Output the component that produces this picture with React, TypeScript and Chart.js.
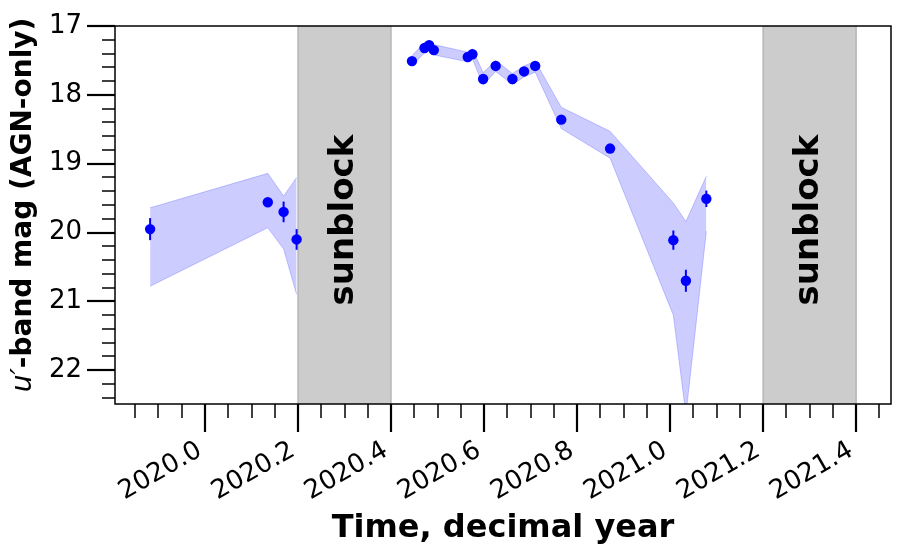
import React, { useEffect, useRef } from 'react';
import { Chart, registerables } from 'chart.js';

Chart.register(...registerables);

// ---- data ----
const times = [
  2019.882, 2020.135, 2020.169, 2020.197,
  2020.445, 2020.472, 2020.482, 2020.492, 2020.565, 2020.575, 2020.598, 2020.625,
  2020.661, 2020.686, 2020.710, 2020.766, 2020.871, 2021.007, 2021.034, 2021.078,
];
const mags = [
  19.95, 19.56, 19.70, 20.10,
  17.51, 17.32, 17.28, 17.35, 17.45, 17.41, 17.77, 17.58,
  17.77, 17.66, 17.58, 18.36, 18.78, 20.11, 20.70, 19.51,
];
const magErrs = [
  0.16, 0.04, 0.15, 0.15,
  0.03, 0.03, 0.03, 0.03, 0.03, 0.03, 0.03, 0.03,
  0.03, 0.03, 0.03, 0.04, 0.05, 0.14, 0.16, 0.12,
];
const bandBright = [
  19.64, 19.14, 19.47, 19.20,
  17.43, 17.24, 17.21, 17.27, 17.38, 17.33, 17.68, 17.50,
  17.69, 17.58, 17.51, 18.18, 18.53, 19.57, 19.84, 19.18,
];
const bandFaint = [
  20.78, 19.93, 20.24, 20.90,
  17.58, 17.39, 17.36, 17.42, 17.52, 17.48, 17.86, 17.66,
  17.85, 17.74, 17.67, 18.49, 18.92, 21.20, 22.65, 19.98,
];
const segments = [
  [0, 4],
  [4, 20],
];
const sunblockSpans = [
  [2020.2, 2020.4],
  [2021.2, 2021.4],
];
const sunblockLabel = 'sunblock';
const xTickValues = [2020.0, 2020.2, 2020.4, 2020.6, 2020.8, 2021.0, 2021.2, 2021.4];
const yTickValues = [17, 18, 19, 20, 21, 22];
const xTitle = 'Time, decimal year';
const yTitleItalic = 'u\u2032';
const yTitleBold = '-band mag (AGN-only)';

const X_MIN = 2019.8065;
const X_MAX = 2021.475;
const Y_MIN = 17;
const Y_MAX = 22.49;
const X_MINOR_STEP = 0.05;
const Y_MINOR_STEP = 0.2;

const FONT = '"DejaVu Sans", sans-serif';

const decorPlugin = {
  id: 'decor',
  beforeDatasetsDraw(chart: any) {
    const { ctx, chartArea: a, scales } = chart;
    const x = scales.x;
    ctx.save();
    ctx.beginPath();
    ctx.rect(a.left, a.top, a.right - a.left, a.bottom - a.top);
    ctx.clip();
    for (const [s, e] of sunblockSpans) {
      const x0 = x.getPixelForValue(s);
      const x1 = x.getPixelForValue(e);
      ctx.fillStyle = '#cccccc';
      ctx.fillRect(x0, a.top, x1 - x0, a.bottom - a.top);
      ctx.strokeStyle = '#b0b0b0';
      ctx.lineWidth = 1.3;
      ctx.beginPath();
      ctx.moveTo(x0, a.top);
      ctx.lineTo(x0, a.bottom);
      ctx.moveTo(x1, a.top);
      ctx.lineTo(x1, a.bottom);
      ctx.stroke();
      ctx.save();
      ctx.translate((x0 + x1) / 2, 220);
      ctx.rotate(-Math.PI / 2);
      ctx.font = `bold 34px ${FONT}`;
      ctx.fillStyle = '#000';
      ctx.textAlign = 'center';
      ctx.textBaseline = 'middle';
      ctx.fillText(sunblockLabel, 0, 0);
      ctx.restore();
    }
    ctx.restore();
  },
  beforeDatasetDraw(chart: any, args: any) {
    if (args.index !== 0) return;
    const { ctx, scales } = chart;
    const x = scales.x;
    const y = scales.y;
    ctx.save();
    ctx.strokeStyle = '#0000ff';
    ctx.lineWidth = 2;
    for (let i = 0; i < times.length; i++) {
      const px = x.getPixelForValue(times[i]);
      ctx.beginPath();
      ctx.moveTo(px, y.getPixelForValue(mags[i] - magErrs[i]));
      ctx.lineTo(px, y.getPixelForValue(mags[i] + magErrs[i]));
      ctx.stroke();
    }
    ctx.restore();
  },
  afterDraw(chart: any) {
    const { ctx, chartArea: a, scales } = chart;
    const x = scales.x;
    const y = scales.y;
    ctx.save();
    // spines
    ctx.strokeStyle = '#000';
    ctx.lineWidth = 1.5;
    ctx.strokeRect(a.left, a.top, a.right - a.left, a.bottom - a.top);
    // x ticks
    const xStart = Math.ceil((X_MIN + 1e-9) / X_MINOR_STEP);
    const xEnd = Math.floor((X_MAX - 1e-9) / X_MINOR_STEP);
    for (let k = xStart; k <= xEnd; k++) {
      const v = k * X_MINOR_STEP;
      const isMajor = xTickValues.some((t) => Math.abs(t - v) < 1e-6);
      const px = Math.round(x.getPixelForValue(v));
      ctx.lineWidth = isMajor ? 2.2 : 1.5;
      ctx.beginPath();
      ctx.moveTo(px, a.bottom);
      ctx.lineTo(px, a.bottom + (isMajor ? 28 : 14));
      ctx.stroke();
    }
    // y ticks
    const yStart = Math.ceil((Y_MIN - 1e-9) / Y_MINOR_STEP);
    const yEnd = Math.floor((Y_MAX - 1e-9) / Y_MINOR_STEP);
    for (let k = yStart; k <= yEnd; k++) {
      const v = k * Y_MINOR_STEP;
      const isMajor = yTickValues.some((t) => Math.abs(t - v) < 1e-6);
      const py = Math.round(y.getPixelForValue(v));
      ctx.lineWidth = isMajor ? 2.2 : 1.5;
      ctx.beginPath();
      ctx.moveTo(a.left, py);
      ctx.lineTo(a.left - (isMajor ? 28 : 13), py);
      ctx.stroke();
    }
    // y title (mixed italic + bold)
    ctx.translate(24, 205);
    ctx.rotate(-Math.PI / 2);
    ctx.fillStyle = '#000';
    ctx.textBaseline = 'middle';
    ctx.textAlign = 'left';
    const fi = `oblique 28px ${FONT}`;
    const fb = `bold 28px ${FONT}`;
    ctx.font = fi;
    const w1 = ctx.measureText(yTitleItalic).width;
    ctx.font = fb;
    const w2 = ctx.measureText(yTitleBold).width;
    const start = -(w1 + w2) / 2;
    ctx.font = fi;
    ctx.fillText(yTitleItalic, start, 0);
    ctx.font = fb;
    ctx.fillText(yTitleBold, start + w1, 0);
    ctx.restore();
  },
};

export default function App() {
  const canvasRef = useRef<HTMLCanvasElement | null>(null);

  useEffect(() => {
    const canvas = canvasRef.current;
    if (!canvas) return;

    const pointData = times.map((t, i) => ({ x: t, y: mags[i] }));
    const bandSets: any[] = [];
    segments.forEach(([s, e]) => {
      const up = [];
      const lo = [];
      for (let i = s; i < e; i++) {
        up.push({ x: times[i], y: bandBright[i] });
        lo.push({ x: times[i], y: bandFaint[i] });
      }
      bandSets.push({
        data: up,
        borderColor: 'rgba(0,0,255,0.2)',
        borderWidth: 1,
        backgroundColor: 'rgba(0,0,255,0.2)',
        pointRadius: 0,
        tension: 0,
        fill: false,
        clip: 0,
      });
      bandSets.push({
        data: lo,
        borderColor: 'rgba(0,0,255,0.2)',
        borderWidth: 1,
        backgroundColor: 'rgba(0,0,255,0.2)',
        pointRadius: 0,
        tension: 0,
        fill: '-1',
        clip: 0,
      });
    });

    const chart = new Chart(canvas, {
      type: 'line',
      data: {
        datasets: [
          {
            data: pointData,
            showLine: false,
            pointRadius: 5.2,
            pointBackgroundColor: '#0000ff',
            pointBorderWidth: 0,
            borderColor: '#0000ff',
            backgroundColor: '#0000ff',
          },
          ...bandSets,
        ],
      },
      options: {
        animation: false,
        responsive: false,
        devicePixelRatio: 1,
        events: [],
        layout: { padding: { top: 26, right: 10, left: 0, bottom: 0 } },
        plugins: {
          legend: { display: false },
          tooltip: { enabled: false },
        },
        scales: {
          x: {
            type: 'linear',
            min: X_MIN,
            max: X_MAX,
            grid: { display: false, drawTicks: true, tickLength: 28 },
            border: { display: false },
            afterBuildTicks: (scale: any) => {
              scale.ticks = xTickValues.map((v) => ({ value: v }));
            },
            afterFit: (scale: any) => {
              scale.height = 152;
              scale.paddingLeft = 0;
              scale.paddingRight = 0;
            },
            ticks: {
              autoSkip: false,
              minRotation: 30,
              maxRotation: 30,
              padding: 3,
              labelOffset: -5,
              color: '#000',
              font: { family: FONT, size: 26 },
              callback: (v: any) => Number(v).toFixed(1),
            },
            title: {
              display: true,
              text: xTitle,
              color: '#000',
              font: { family: FONT, size: 32, weight: 'bold' },
              padding: { top: 0, bottom: 8 },
            },
          },
          y: {
            type: 'linear',
            reverse: true,
            min: Y_MIN,
            max: Y_MAX,
            grid: { display: false, drawTicks: true, tickLength: 28 },
            border: { display: false },
            afterBuildTicks: (scale: any) => {
              scale.ticks = yTickValues.map((v) => ({ value: v }));
            },
            afterFit: (scale: any) => {
              scale.width = 115;
              scale.paddingTop = 0;
              scale.paddingBottom = 0;
            },
            ticks: {
              padding: 5,
              color: '#000',
              font: { family: FONT, size: 26 },
              callback: (v: any) => String(v),
            },
          },
        },
      },
      plugins: [decorPlugin],
    });

    return () => chart.destroy();
  }, []);

  return (
    <div style={{ position: 'fixed', left: 0, top: 0, width: 901, height: 556, background: '#fff' }}>
      <canvas ref={canvasRef} width={901} height={556} style={{ width: 901, height: 556 }} />
    </div>
  );
}
